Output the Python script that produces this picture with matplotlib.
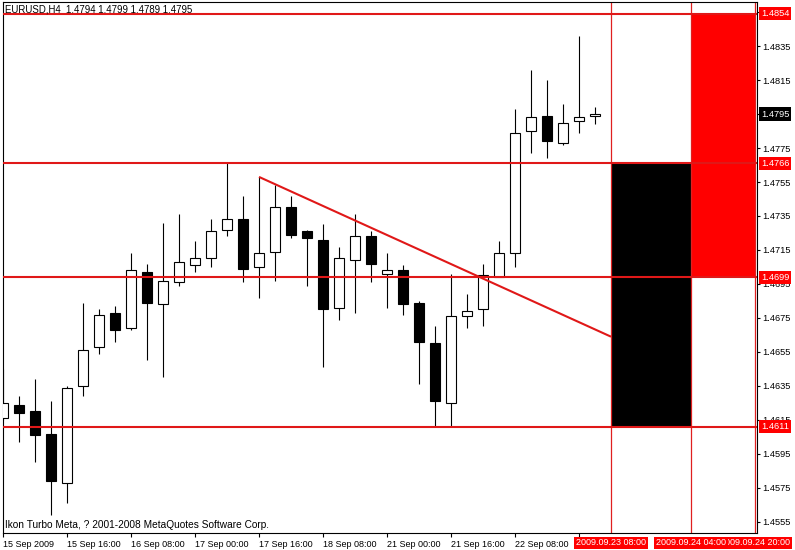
import matplotlib
matplotlib.use("Agg")
import matplotlib.pyplot as plt
import matplotlib.transforms as mtransforms
from matplotlib.patches import Rectangle

# ---------------- data ----------------
header_text = "EURUSD,H4  1.4794 1.4799 1.4789 1.4795"
copyright_text = "Ikon Turbo Meta, ? 2001-2008 MetaQuotes Software Corp."

opens = [1.4616, 1.4624, 1.4620, 1.4607, 1.4578, 1.4635, 1.4658, 1.4678, 1.4669, 1.4702,
         1.4683, 1.4696, 1.4706, 1.4710, 1.4727, 1.4733, 1.4705, 1.4714, 1.4740, 1.4726,
         1.4721, 1.4681, 1.4709, 1.4723, 1.4701, 1.4703, 1.4684, 1.4660, 1.4625, 1.4676,
         1.4680, 1.4699, 1.4713, 1.4785, 1.4794, 1.4778, 1.4791, 1.4794]
highs = [1.4645, 1.4629, 1.4639, 1.4626, 1.4635, 1.4684, 1.4680, 1.4682, 1.4713, 1.4707,
         1.4731, 1.4736, 1.4720, 1.4733, 1.4766, 1.4747, 1.4758, 1.4753, 1.4747, 1.4727,
         1.4730, 1.4717, 1.4736, 1.4726, 1.4713, 1.4706, 1.4685, 1.4670, 1.4701, 1.4689,
         1.4707, 1.4720, 1.4798, 1.4821, 1.4815, 1.4801, 1.4841, 1.4799]
lows = [1.4615, 1.4602, 1.4590, 1.4559, 1.4566, 1.4629, 1.4654, 1.4661, 1.4668, 1.4650,
        1.4640, 1.4694, 1.4702, 1.4705, 1.4723, 1.4696, 1.4687, 1.4697, 1.4722, 1.4694,
        1.4646, 1.4674, 1.4678, 1.4696, 1.4681, 1.4677, 1.4636, 1.4611, 1.4611, 1.4669,
        1.4670, 1.4699, 1.4705, 1.4772, 1.4769, 1.4777, 1.4784, 1.4789]
closes = [1.4625, 1.4619, 1.4606, 1.4579, 1.4634, 1.4656, 1.4677, 1.4668, 1.4703, 1.4684,
          1.4697, 1.4708, 1.4710, 1.4726, 1.4733, 1.4704, 1.4713, 1.4740, 1.4724, 1.4722,
          1.4680, 1.4710, 1.4723, 1.4707, 1.4703, 1.4683, 1.4661, 1.4626, 1.4676, 1.4679,
          1.4700, 1.4713, 1.4784, 1.4793, 1.4779, 1.4790, 1.4793, 1.4795]

time_tick_pos = [0, 4, 8, 12, 16, 20, 24, 28, 32, 36]
time_tick_labels = ["15 Sep 2009", "15 Sep 16:00", "16 Sep 08:00", "17 Sep 00:00",
                    "17 Sep 16:00", "18 Sep 08:00", "21 Sep 00:00", "21 Sep 16:00",
                    "22 Sep 08:00", ""]

price_ticks = [1.4555, 1.4575, 1.4595, 1.4615, 1.4635, 1.4655, 1.4675, 1.4695,
               1.4715, 1.4735, 1.4755, 1.4775, 1.4795, 1.4815, 1.4835, 1.4855]

levels = [1.4854, 1.4766, 1.4699, 1.4611]
trend_x = [16, 38]
trend_y = [1.4758, 1.4664]

vline_pos = [38, 43, 47]
vline_labels = ["2009.09.23 08:00", "2009.09.24 04:00", "2009.09.24 20:00"]

black_zone = (38, 43, 1.4611, 1.4766)   # x0, x1, y0, y1
red_zone = (43, 47, 1.4699, 1.4854)

# ---------------- style ----------------
FONT = "Liberation Sans"
FS_Y = 6.7
FS_X = 6.5
FS_HDR = 6.9
FS_COPY = 7.3
LINE_RED = "#e01818"
plt.rcParams["font.family"] = FONT

fig = plt.figure(figsize=(7.95, 5.5), dpi=100)
fig.patch.set_facecolor("white")
ax = fig.add_axes([2.5 / 795, 17 / 550, 754 / 795, 531 / 550])
ax.set_facecolor("white")
ax.set_xlim(-0.5 / 16, 753.5 / 16)
ax.set_ylim(1.45485, 1.48609)

for sp in ax.spines.values():
    sp.set_color("black")
    sp.set_linewidth(0.8)

# zones
ax.add_patch(Rectangle((black_zone[0], black_zone[2]), black_zone[1] - black_zone[0],
                       black_zone[3] - black_zone[2], facecolor="black",
                       edgecolor="none", zorder=1))
ax.add_patch(Rectangle((red_zone[0], red_zone[2]), red_zone[1] - red_zone[0],
                       red_zone[3] - red_zone[2], facecolor="#ff0000",
                       edgecolor="none", zorder=1))

# vertical time lines
for xv in vline_pos:
    ax.axvline(xv, color="#e02020", lw=0.9, zorder=2)

# candles
bw = 0.625
for i, (o, h, l, c) in enumerate(zip(opens, highs, lows, closes)):
    ax.vlines(i, l, h, color="black", lw=0.8, zorder=3)
    bottom = min(o, c)
    height = max(abs(c - o), 0.00001)
    fc = "black" if c < o else "white"
    ax.add_patch(Rectangle((i - bw / 2, bottom), bw, height, facecolor=fc,
                           edgecolor="black", lw=0.8, zorder=3.5))

# horizontal levels and trend line
for lv in levels:
    ax.axhline(lv, color=LINE_RED, lw=1.5, zorder=4)
ax.plot(trend_x, trend_y, color=LINE_RED, lw=1.5, zorder=4, solid_capstyle="butt")

# axes ticks
ax.yaxis.tick_right()
ax.set_yticks(price_ticks)
ax.set_yticklabels([f"{p:.4f}" for p in price_ticks], fontsize=FS_Y)
ax.set_xticks(time_tick_pos)
ax.set_xticklabels(time_tick_labels, fontsize=FS_X)
for lab in ax.get_xticklabels():
    lab.set_horizontalalignment("left")
ax.tick_params(axis="y", direction="out", length=2.5, width=0.8, pad=1.5, colors="black")
ax.tick_params(axis="x", direction="out", length=3, width=0.8, pad=2, colors="black")

# right-side price labels
ytrans = mtransforms.blended_transform_factory(ax.transAxes, ax.transData)
ytrans = mtransforms.offset_copy(ytrans, fig=fig, x=4.5, y=0, units="dots")
for lv in levels:
    ax.text(1.0, lv, f"{lv:.4f}", transform=ytrans, ha="left", va="center",
            fontsize=FS_Y, color="white", clip_on=False, zorder=6,
            bbox=dict(boxstyle="square,pad=0.22", fc="#ff0000", ec="none"))
ax.text(1.0, closes[-1], f"{closes[-1]:.4f}", transform=ytrans, ha="left", va="center",
        fontsize=FS_Y, color="white", clip_on=False, zorder=6,
        bbox=dict(boxstyle="square,pad=0.22", fc="black", ec="none"))

# bottom time labels for vertical lines (last first so the earlier one overlaps it)
xtrans = mtransforms.blended_transform_factory(ax.transData, ax.transAxes)
for k in [2, 1, 0]:
    ax.text(vline_pos[k], -0.0188, vline_labels[k], transform=xtrans, ha="center",
            va="center", fontsize=FS_X, color="white", clip_on=False, zorder=6 + (2 - k),
            bbox=dict(boxstyle="square,pad=0.2", fc="#ff0000", ec="none"))

# header and copyright
ax.text(0.0035, 0.986, header_text, transform=ax.transAxes, ha="left", va="center",
        fontsize=FS_HDR, color="black", zorder=7)
ax.text(0.0035, 0.016, copyright_text, transform=ax.transAxes, ha="left", va="center",
        fontsize=FS_COPY, color="black", zorder=7)

fig.savefig("out.png", dpi=100, facecolor="white")
